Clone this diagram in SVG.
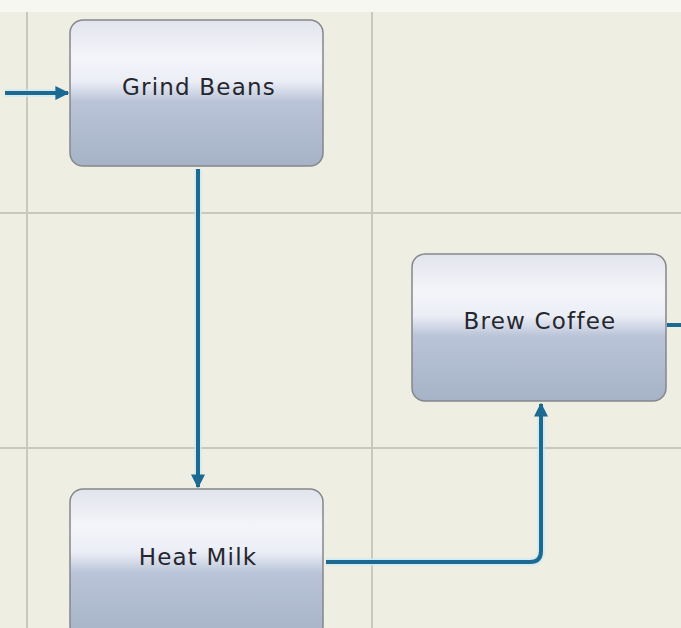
<svg xmlns="http://www.w3.org/2000/svg" width="681" height="628" viewBox="0 0 681 628">
<style>
.grid{stroke:#c9c9bb;stroke-width:2;fill:none}
.node rect{stroke:#85878c;stroke-width:1.5;fill:url(#g)}
.node text{font-family:"DejaVu Sans",Verdana,sans-serif;font-size:23px;letter-spacing:1.2px;fill:#26272e;text-anchor:middle}
.halo{stroke:#cdeaf3;stroke-width:8;fill:none;stroke-opacity:0.7}
.conn{stroke:#1c6a92;stroke-width:4;fill:none;stroke-linejoin:round}
</style>
<defs>
<linearGradient id="g" x1="0" y1="0" x2="0" y2="1">
<stop offset="0" stop-color="#e2e4ec"/>
<stop offset="0.25" stop-color="#f4f5fa"/>
<stop offset="0.42" stop-color="#eceef6"/>
<stop offset="0.56" stop-color="#b9c4d8"/>
<stop offset="1" stop-color="#a6b2c6"/>
</linearGradient>
<marker id="ah" viewBox="0 0 10 10" refX="9" refY="5" markerWidth="3.5" markerHeight="4" orient="auto" markerUnits="strokeWidth">
<path d="M0,0 L10,5 L0,10 z" fill="#1c6a92"/>
</marker>
</defs>
<rect width="681" height="628" fill="#eeeee3"/>
<rect width="681" height="12" fill="#f7f7f2"/>
<g id="grid">
<line class="grid" x1="27" y1="12" x2="27" y2="628"/>
<line class="grid" x1="372" y1="12" x2="372" y2="628"/>
<line class="grid" x1="0" y1="213" x2="681" y2="213"/>
<line class="grid" x1="0" y1="448" x2="681" y2="448"/>
</g>
<g id="connectors">
<path class="halo" d="M5,93 H64"/>
<path class="conn" d="M5,93 H68" marker-end="url(#ah)"/>
<path class="halo" d="M198,169 V476"/>
<path class="conn" d="M198,169 V487" marker-end="url(#ah)"/>
<path class="halo" d="M326,562 H530 Q541,562 541,551 V414"/>
<path class="conn" d="M326,562 H530 Q541,562 541,551 V404" marker-end="url(#ah)"/>
<path class="conn" d="M667,325 H681"/>
</g>
<g id="grind-beans" class="node">
<rect x="70" y="20" width="253" height="146" rx="13"/>
<text x="199" y="95">Grind Beans</text>
</g>
<g id="brew-coffee" class="node">
<rect x="412" y="254" width="254" height="147" rx="13"/>
<text x="540" y="329">Brew Coffee</text>
</g>
<g id="heat-milk" class="node">
<rect x="70" y="489" width="253" height="150" rx="13"/>
<text x="198" y="565">Heat Milk</text>
</g>
</svg>
